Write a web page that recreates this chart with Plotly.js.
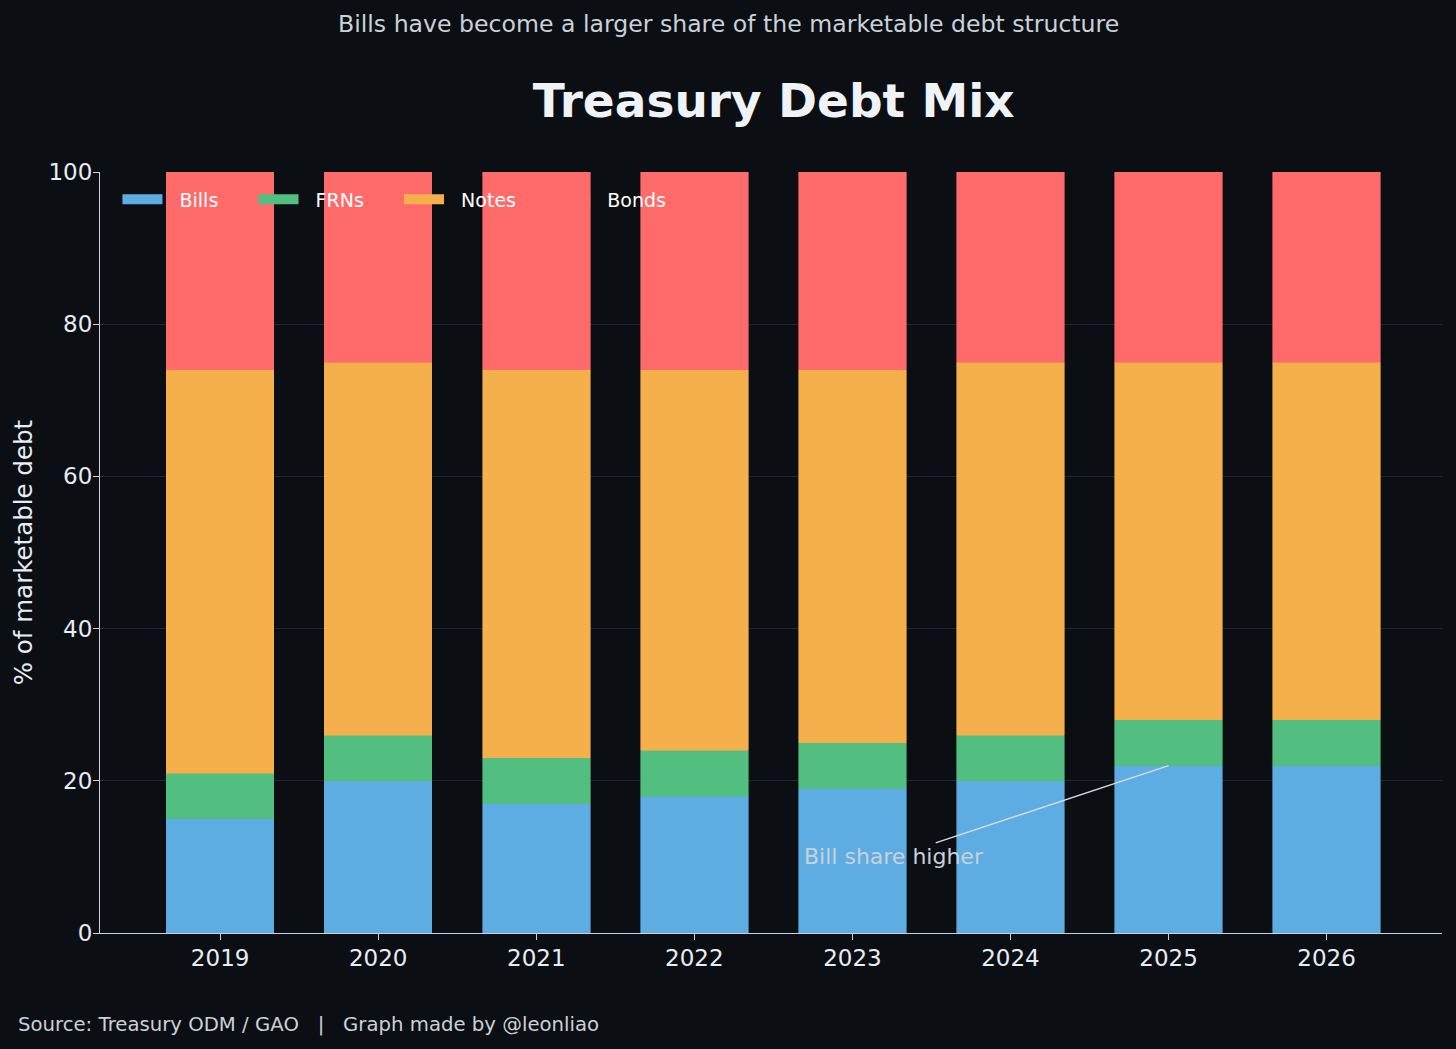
<!DOCTYPE html>
<html>
<head>
<meta charset="utf-8">
<script src="https://cdn.plot.ly/plotly-3.0.1.min.js"></script>
<style>
  html, body { margin: 0; padding: 0; background: #0b0e13; }
  #chart { width: 1456px; height: 1049px; }
</style>
</head>
<body>
<div id="chart"></div>
<script>
// ── Data (% of marketable debt) ─────────────────────────────────────
const years = ["2019", "2020", "2021", "2022", "2023", "2024", "2025", "2026"];
const bills = [15, 20, 17, 18, 19, 20, 22, 22];
const frns  = [6, 6, 6, 6, 6, 6, 6, 6];
const notes = [53, 49, 51, 50, 49, 49, 47, 47];
const bonds = [26, 25, 26, 26, 26, 25, 25, 25];
const yTicks = [0, 20, 40, 60, 80, 100];

const SERIES = [
  { name: "Bills", y: bills, color: "#5dade2" },
  { name: "FRNs",  y: frns,  color: "#52be80" },
  { name: "Notes", y: notes, color: "#f5b04c" },
  { name: "Bonds", y: bonds, color: "#ff6b6b" },
];

const FONT = "DejaVu Sans, sans-serif";
const TEXT = "#e6edf3";
const NB = "\u00a0";
// trailing padding per legend entry, mimics matplotlib column spacing
const LEGEND_PAD = { Bills: 5, FRNs: 5, Notes: 4, Bonds: 0 };

const traces = SERIES.map(s => ({
  type: "bar",
  name: s.name,
  x: years,
  y: s.y,
  legendgroup: s.name,
  showlegend: false,
  marker: { color: s.color, line: { color: s.color, width: 0.6 } },
  hoverinfo: "x+y+name",
}));

// Legend-only entries so the swatches are wide rectangles
for (const s of SERIES) {
  traces.push({
    type: "scatter",
    mode: "lines",
    name: NB.repeat(2) + s.name + NB.repeat(LEGEND_PAD[s.name]),
    legendgroup: s.name,
    x: [null],
    y: [null],
    line: { color: s.color, width: 15 },
    showlegend: true,
    hoverinfo: "skip",
  });
}

const layout = {
  width: 1456,
  height: 1049,
  barmode: "stack",
  bargap: 0.32,
  paper_bgcolor: "#0b0e13",
  plot_bgcolor: "#0b0e13",
  font: { family: FONT, color: TEXT, size: 22 },
  margin: { l: 100, r: 14, t: 172, b: 116 },
  showlegend: true,
  legend: {
    orientation: "h",
    x: 0.013, y: 0.989,
    xanchor: "left", yanchor: "top",
    bgcolor: "rgba(0,0,0,0)",
    font: { size: 19, color: "#ffffff", family: FONT },
    traceorder: "normal",
    itemwidth: 40,
  },
  xaxis: {
    type: "category",
    range: [-0.76, 7.73],
    showline: true,
    linecolor: "#c9d1d9",
    linewidth: 1,
    ticks: "outside",
    tickcolor: "#c9d1d9",
    ticklen: 6,
    ticklabelstandoff: -2,
    tickfont: { size: 23, color: TEXT },
    showgrid: false,
    zeroline: false,
  },
  yaxis: {
    range: [0, 100],
    tickvals: yTicks,
    showline: true,
    linecolor: "#c9d1d9",
    linewidth: 1,
    ticks: "outside",
    tickcolor: "#c9d1d9",
    ticklen: 6,
    ticklabelstandoff: -4,
    tickfont: { size: 23, color: TEXT },
    gridcolor: "rgba(110,118,129,0.25)",
    gridwidth: 1,
    zeroline: false,
    title: { text: "% of marketable debt", font: { size: 24.5, color: TEXT }, standoff: 8 },
  },
  title: {
    text: "<b>Treasury Debt Mix</b>",
    font: { size: 47, color: "#f0f3f6", family: FONT },
    x: 0.502, xref: "paper", xanchor: "center",
    y: 0.904, yref: "container", yanchor: "middle",
  },
  annotations: [
    {
      text: "Bills have become a larger share of the marketable debt structure",
      xref: "paper", yref: "paper",
      x: 0.468, y: 1.194, xanchor: "center", yanchor: "middle",
      showarrow: false,
      font: { size: 23.6, color: "#c9d1d9" },
    },
    {
      text: "Source: Treasury ODM / GAO   |   Graph made by @leonliao",
      xref: "paper", yref: "paper",
      x: -0.0625, y: -0.12, xanchor: "left", yanchor: "middle",
      showarrow: false,
      font: { size: 19.7, color: "#c9d1d9" },
    },
    {
      text: "Bill share higher",
      x: 6, y: bills[6],
      xref: "x", yref: "y",
      ax: 4.26, ay: 10,
      axref: "x", ayref: "y",
      showarrow: true,
      arrowhead: 0,
      arrowwidth: 1.4,
      arrowcolor: "#d8dde3",
      font: { size: 22, color: "#c9d1d9" },
    },
  ],
};

Plotly.newPlot("chart", traces, layout, { displayModeBar: false, staticPlot: true });
</script>
</body>
</html>
